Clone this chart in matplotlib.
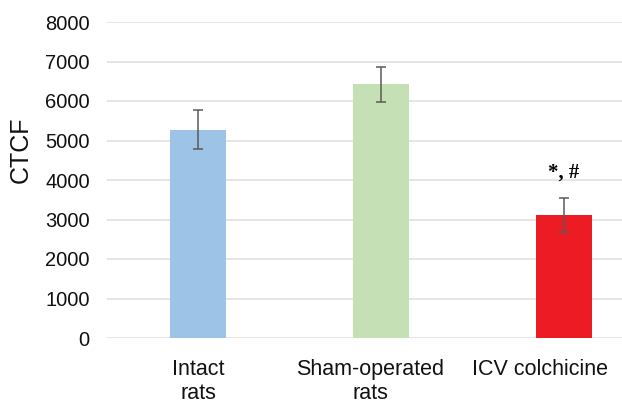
import matplotlib
matplotlib.use("Agg")
import matplotlib.pyplot as plt

# data
groups = ["Intact\nrats", "Sham-operated\nrats", "ICV colchicine"]
ctcf = [5270, 6420, 3120]
sem = [490, 440, 430]
bar_colors = ["#9dc3e6", "#c5e0b4", "#ed1c24"]
yticks = [0, 1000, 2000, 3000, 4000, 5000, 6000, 7000, 8000]
# excel squeezed the category labels to the left, they are not centred on the bars
label_x = [0.0, 0.94, 1.87]

plt.rcParams["font.family"] = ["Liberation Sans", "DejaVu Sans"]

fig = plt.figure(figsize=(6.22, 4.03), dpi=100)
W, H = 622, 403
# axes extends past the right edge, the original looks cropped there
ax = fig.add_axes([106.5 / W, 65 / H, 549 / W, 316 / H])

x = range(len(groups))
ax.bar(x, ctcf, width=0.31, color=bar_colors, zorder=2)
ax.errorbar(x, ctcf, yerr=sem, fmt="none", ecolor="#5a5a5a",
            elinewidth=1.1, capsize=3.5, capthick=1.1, zorder=3)

ax.text(2, 4200, "*, #", ha="center", va="center", fontsize=15,
        fontweight="bold", family=["Liberation Serif", "DejaVu Serif"])

for lx, name in zip(label_x, groups):
    ax.text(lx, -0.068, name, transform=ax.get_xaxis_transform(),
            ha="center", va="top", fontsize=15.5, linespacing=1.15,
            color="#111111")

ax.set_xlim(-0.5, 2.5)
ax.set_ylim(0, 8000)
ax.set_yticks(yticks)
ax.set_xticks([])
ax.tick_params(axis="y", labelsize=14.5, length=0, pad=12, labelcolor="#111111")
ax.set_ylabel("CTCF", fontsize=18, color="#111111")
ax.yaxis.set_label_coords(-0.134, 0.595)

ax.grid(axis="y", color="#e2dcdc", linewidth=1.1, zorder=0)
for s in ax.spines.values():
    s.set_visible(False)

fig.savefig("out.png", dpi=100)
